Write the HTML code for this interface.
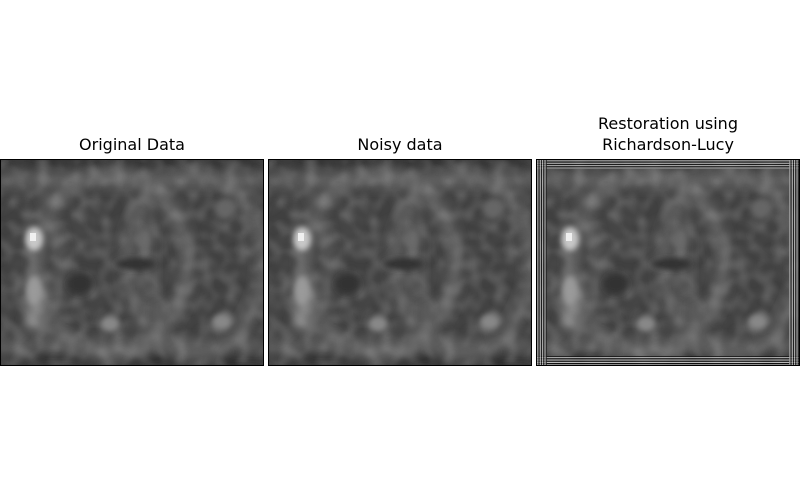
<!DOCTYPE html>
<html><head><meta charset="utf-8"><style>
html,body{margin:0;padding:0;background:#fff;width:800px;height:500px;overflow:hidden}
text{font-family:"DejaVu Sans","Liberation Sans",sans-serif;font-size:16px;fill:#000}
</style></head><body>
<svg width="800" height="500" viewBox="0 0 800 500">
<defs>
<filter id="bl" x="-20%" y="-20%" width="140%" height="140%"><feGaussianBlur stdDeviation="5"/></filter>
<filter id="bl2" x="-50%" y="-50%" width="200%" height="200%"><feGaussianBlur stdDeviation="3"/></filter>
<filter id="nz" x="0" y="0" width="100%" height="100%">
  <feTurbulence type="fractalNoise" baseFrequency="0.08" numOctaves="1" seed="4"/>
  <feColorMatrix type="matrix" values="0 0 0 0 0.5  0 0 0 0 0.5  0 0 0 0 0.5  0.8 0 0 0 -0.33"/>
  <feGaussianBlur stdDeviation="1.5"/>
</filter>
<filter id="nz2" x="0" y="0" width="100%" height="100%">
  <feTurbulence type="fractalNoise" baseFrequency="0.08" numOctaves="1" seed="9"/>
  <feColorMatrix type="matrix" values="0 0 0 0 0.1  0 0 0 0 0.1  0 0 0 0 0.1  0.8 0 0 0 -0.33"/>
  <feGaussianBlur stdDeviation="1.5"/>
</filter>
<clipPath id="cp"><rect x="0" y="0" width="264" height="207"/></clipPath>
<pattern id="vs" width="2.4" height="10" patternUnits="userSpaceOnUse"><rect width="1.3" height="10" fill="#000"/><rect x="1.3" width="1.1" height="10" fill="#ddd"/></pattern>
<pattern id="hs" width="10" height="2.4" patternUnits="userSpaceOnUse"><rect width="10" height="1.3" fill="#000"/><rect y="1.3" width="10" height="1.1" fill="#ddd"/></pattern>
<g id="img" clip-path="url(#cp)">
  <rect width="264" height="207" fill="#404040"/>
  <g filter="url(#bl)">
    <rect x="0" y="0" width="264" height="8" fill="#2a2a2a"/>
    <rect x="0" y="14" width="264" height="14" fill="#606060"/>
    <rect x="0" y="180" width="264" height="12" fill="#5a5a5a"/>
    <rect x="0" y="196" width="264" height="11" fill="#2c2c2c"/>
    <ellipse cx="112" cy="105" rx="75" ry="90" fill="none" stroke="#666" stroke-width="12"/>
    <ellipse cx="195" cy="105" rx="68" ry="90" fill="none" stroke="#606060" stroke-width="12"/>
    <ellipse cx="20" cy="105" rx="40" ry="90" fill="none" stroke="#555" stroke-width="10"/>
    <rect x="26" y="120" width="16" height="50" fill="#8a8a8a"/>
    <rect x="140" y="60" width="14" height="110" fill="#505050"/>
    <rect x="150" y="140" width="25" height="30" fill="#5a5a5a"/>
  </g>
  <rect width="264" height="207" filter="url(#nz)"/>
  <rect width="264" height="207" filter="url(#nz2)"/>
  <g filter="url(#bl2)">
    <ellipse cx="34" cy="80" rx="9" ry="12" fill="#c8c8c8"/>
    <ellipse cx="34" cy="132" rx="7" ry="15" fill="#9a9a9a"/>
    <ellipse cx="110" cy="165" rx="10" ry="8" fill="#888"/>
    <ellipse cx="222" cy="163" rx="10" ry="8" fill="#888"/>
    <ellipse cx="145" cy="80" rx="6" ry="10" fill="#6a6a6a"/>
    <ellipse cx="225" cy="50" rx="10" ry="10" fill="#666"/>
    <ellipse cx="135" cy="105" rx="20" ry="6" fill="#303030"/>
    <ellipse cx="80" cy="125" rx="12" ry="10" fill="#333"/>
  </g>
  <rect x="30" y="74" width="6" height="8" fill="#f0f0f0"/>
</g>
</defs>
<text x="132" y="150" text-anchor="middle">Original Data</text>
<text x="400" y="150" text-anchor="middle">Noisy data</text>
<text x="668" y="129" text-anchor="middle">Restoration using</text>
<text x="668" y="150" text-anchor="middle">Richardson-Lucy</text>
<g transform="translate(0,159)"><use href="#img"/><rect x="0.5" y="0.5" width="263" height="206" fill="none" stroke="#000"/></g>
<g transform="translate(268,159)"><use href="#img"/><rect x="0.5" y="0.5" width="263" height="206" fill="none" stroke="#000"/></g>
<g transform="translate(536,159)">
  <use href="#img"/>
  <rect x="0" y="0" width="264" height="10" fill="url(#hs)" opacity="0.8"/>
  <rect x="0" y="197" width="264" height="10" fill="url(#hs)" opacity="0.8"/>
  <rect x="0" y="0" width="11" height="207" fill="url(#vs)" opacity="0.8"/>
  <rect x="253" y="0" width="11" height="207" fill="url(#vs)" opacity="0.8"/>
  <rect x="0.5" y="0.5" width="263" height="206" fill="none" stroke="#000"/>
</g>
</svg>
</body></html>
